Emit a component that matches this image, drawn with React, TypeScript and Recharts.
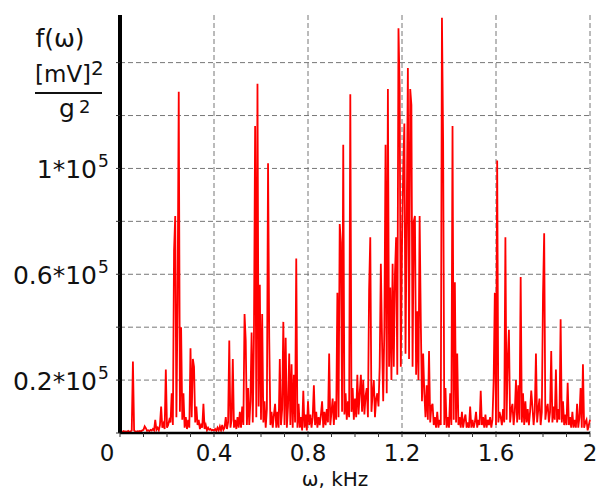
import { LineChart, Line, XAxis, YAxis, CartesianGrid } from 'recharts'

// spectrum samples, units of 10^5 [mV]^2/g^2, step 0.005 kHz
const STEP = 0.005
const bandStarts = [0, 0.4, 0.8, 1.2, 1.6]

const band0 = [
  0.005, 0.006, 0.004, 0.007, 0.005, 0.006, 0.004, 0.008, 0.005, 0.006,
  0.01, 0.27, 0.01, 0.006, 0.005, 0.007, 0.006, 0.008, 0.006, 0.01,
  0.012, 0.025, 0.018, 0.008, 0.01, 0.007, 0.012, 0.009, 0.015, 0.01,
  0.05, 0.012, 0.02, 0.01, 0.03, 0.1, 0.02, 0.035, 0.015, 0.24,
  0.02, 0.03, 0.05, 0.04, 0.15, 0.03, 0.69, 0.82, 0.06, 0.49,
  1.29, 0.08, 0.4, 0.05, 0.15, 0.02, 0.06, 0.015, 0.05, 0.02,
  0.32, 0.06, 0.28, 0.25, 0.04, 0.1, 0.03, 0.05, 0.015, 0.03,
  0.02, 0.11, 0.015, 0.03, 0.01, 0.02, 0.012, 0.015, 0.01, 0.012,
]

const band1 = [
  0.01, 0.015, 0.008, 0.02, 0.01, 0.025, 0.01, 0.03, 0.012, 0.02,
  0.06, 0.015, 0.04, 0.35, 0.02, 0.05, 0.28, 0.02, 0.05, 0.015,
  0.06, 0.02, 0.08, 0.02, 0.1, 0.03, 0.45, 0.35, 0.03, 0.17,
  0.03, 0.12, 0.38, 0.04, 0.37, 1.16, 0.06, 1.32, 0.1, 0.56,
  0.05, 0.45, 0.04, 0.12, 0.02, 0.09, 1.02, 0.36, 0.03, 0.08,
  0.02, 0.07, 0.11, 0.02, 0.08, 0.02, 0.28, 0.03, 0.09, 0.42,
  0.03, 0.36, 0.02, 0.1, 0.3, 0.03, 0.26, 0.02, 0.22, 0.04,
  0.66, 0.02, 0.11, 0.02, 0.06, 0.01, 0.16, 0.02, 0.07, 0.01,
]

const band2 = [
  0.12, 0.03, 0.07, 0.02, 0.06, 0.18, 0.03, 0.08, 0.02, 0.06,
  0.03, 0.07, 0.12, 0.02, 0.08, 0.03, 0.09, 0.04, 0.3, 0.03,
  0.08, 0.13, 0.03, 0.12, 0.05, 0.53, 0.06, 0.79, 0.72, 0.08,
  1.09, 0.07, 0.15, 0.05, 0.12, 0.06, 1.28, 0.08, 0.17, 0.05,
  0.13, 0.06, 0.22, 0.07, 0.15, 0.22, 0.08, 0.2, 0.07, 0.14,
  0.17, 0.06, 0.54, 0.74, 0.08, 0.15, 0.2, 0.06, 0.13, 0.15,
  0.1, 0.25, 0.64, 0.35, 0.12, 0.4, 1.09, 0.15, 1.3, 0.25,
  0.55, 0.2, 0.64, 0.25, 0.6, 0.74, 0.22, 1.53, 1.3, 0.25,
]

const band3 = [
  0.7, 0.99, 1.17, 0.3, 0.8, 1.38, 0.28, 1.3, 1.24, 0.25,
  0.8, 0.82, 0.22, 0.46, 0.2, 0.82, 0.42, 0.12, 0.3, 0.15,
  0.06, 0.18, 0.05, 0.31, 0.04, 0.1, 0.11, 0.03, 0.06, 0.02,
  0.08, 0.02, 0.05, 0.03, 1.57, 1.1, 0.03, 0.17, 0.02, 0.06,
  0.02, 0.15, 0.03, 1.16, 0.05, 0.57, 0.04, 0.3, 0.03, 0.06,
  0.02, 0.08, 0.02, 0.05, 0.07, 0.02, 0.04, 0.02, 0.1, 0.02,
  0.05, 0.02, 0.04, 0.08, 0.02, 0.05, 0.03, 0.16, 0.03, 0.06,
  0.02, 0.07, 0.02, 0.05, 0.03, 0.06, 0.02, 0.05, 0.2, 0.53,
]

const band4 = [
  0.03, 1.03, 0.04, 0.08, 0.06, 0.03, 0.09, 0.04, 0.74, 0.05,
  0.28, 0.39, 0.04, 0.09, 0.11, 0.03, 0.08, 0.2, 0.04, 0.18,
  0.05, 0.59, 0.04, 0.15, 0.03, 0.12, 0.04, 0.09, 0.03, 0.08,
  0.16, 0.1, 0.03, 0.08, 0.3, 0.04, 0.09, 0.13, 0.03, 0.08,
  0.52, 0.755, 0.05, 0.09, 0.11, 0.04, 0.08, 0.31, 0.04, 0.1,
  0.05, 0.24, 0.04, 0.09, 0.05, 0.43, 0.04, 0.12, 0.03, 0.07,
  0.03, 0.19, 0.03, 0.06, 0.02, 0.08, 0.02, 0.05, 0.02, 0.11,
  0.02, 0.06, 0.17, 0.02, 0.26, 0.02, 0.04, 0.05, 0.01, 0.03,
  0.05,
]

const xTicks = [0, 0.1, 0.2, 0.3, 0.4, 0.5, 0.6, 0.7, 0.8, 0.9, 1, 1.1, 1.2, 1.3, 1.4, 1.5, 1.6, 1.7, 1.8, 1.9, 2]
const xLabels = ['0', '0.4', '0.8', '1.2', '1.6', '2']
const yTicks = [0, 0.2, 0.4, 0.6, 0.8, 1, 1.2, 1.4]
const yLabels: Record<string, string> = { '0.2': '0.2*10', '0.6': '0.6*10', '1': '1*10' }

const data = [band0, band1, band2, band3, band4].flatMap((vals, b) =>
  vals.map((v, i) => ({ f: +(bandStarts[b] + i * STEP).toFixed(3), v }))
)

const FONT = '"DejaVu Sans", Arial, sans-serif'

const XTick = ({ x, y, payload }: any) => {
  const label = String(+payload.value.toFixed(1))
  if (!xLabels.includes(label)) return null
  const dx = label === '0' ? -13 : 0
  return (
    <text x={x + dx} y={y + 22} textAnchor="middle" fontSize={23} fontFamily={FONT} fill="#111">
      {label}
    </text>
  )
}

const YTick = ({ y, payload }: any) => {
  const label = yLabels[String(+payload.value.toFixed(1))]
  if (!label) return null
  return (
    <g fontFamily={FONT} fill="#111">
      <text x={97} y={y + 10} textAnchor="end" fontSize={25}>{label}</text>
      <text x={98} y={y - 1} fontSize={17}>5</text>
    </g>
  )
}

export default function App() {
  return (
    <div style={{ position: 'absolute', left: 0, top: 0, width: 598, height: 491, background: '#fff' }}>
      <LineChart width={598} height={491} data={data} margin={{ top: 15, right: 8, bottom: 0, left: 0 }}>
        <CartesianGrid
          stroke="#777"
          strokeDasharray="5 3"
          horizontalValues={[0.2, 0.4, 0.6, 0.8, 1, 1.2, 1.4]}
          verticalValues={[0.4, 0.8, 1.2, 1.6, 2]}
        />
        <XAxis
          dataKey="f"
          type="number"
          domain={[0, 2]}
          ticks={xTicks}
          interval={0}
          height={58}
          tick={<XTick />}
          tickSize={4}
          tickLine={{ stroke: '#333' }}
          axisLine={{ stroke: '#000', strokeWidth: 2.5 }}
        />
        <YAxis
          type="number"
          domain={[0, 1.58]}
          ticks={yTicks}
          interval={0}
          width={120}
          tick={<YTick />}
          tickSize={4}
          tickLine={{ stroke: '#333' }}
          axisLine={{ stroke: '#000', strokeWidth: 4 }}
          allowDataOverflow
        />
        <Line
          type="linear"
          dataKey="v"
          stroke="#ff0000"
          strokeWidth={1.8}
          dot={false}
          isAnimationActive={false}
        />
      </LineChart>
      <svg width={598} height={491} style={{ position: 'absolute', left: 0, top: 0, pointerEvents: 'none' }}>
        <g fontFamily={FONT} fill="#111">
          <text x={60} y={47} textAnchor="middle" fontSize={25}>f(ω)</text>
          <text x={35} y={82} fontSize={23}>[mV]</text>
          <text x={91} y={75} fontSize={20}>2</text>
          <line x1={35} y1={93} x2={102} y2={93} stroke="#111" strokeWidth={2} />
          <text x={59} y={117} fontSize={25}>g</text>
          <text x={79} y={113} fontSize={18}>2</text>
          <text x={335} y={486} textAnchor="middle" fontSize={20}>ω, kHz</text>
        </g>
      </svg>
    </div>
  )
}
